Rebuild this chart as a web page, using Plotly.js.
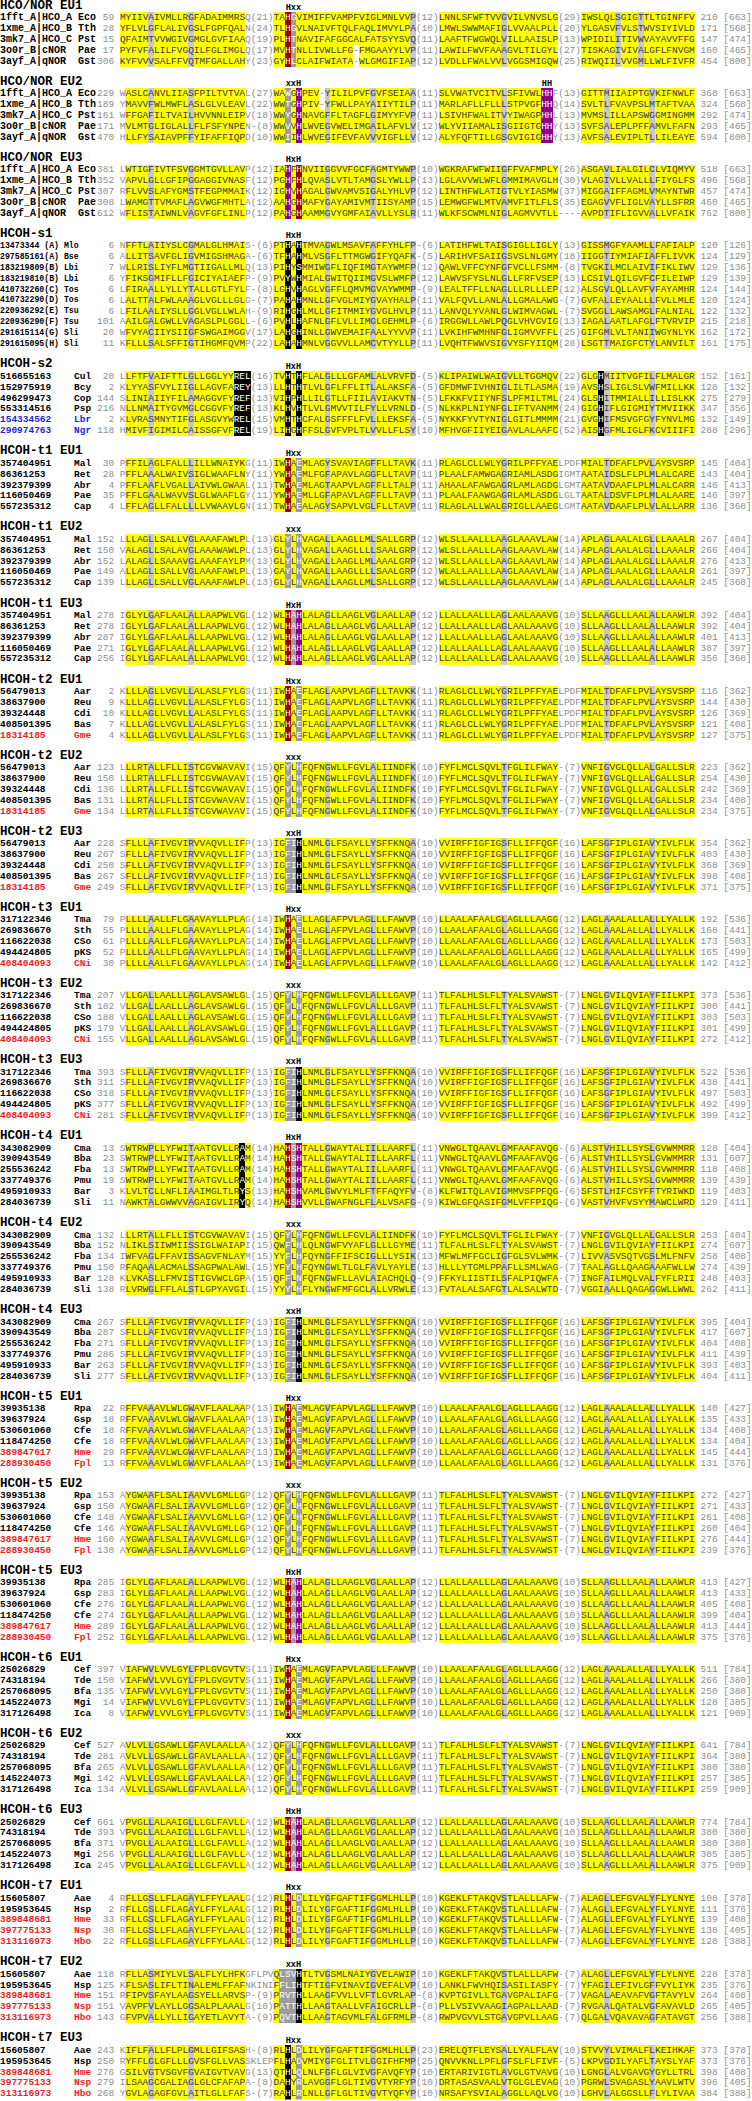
<!DOCTYPE html>
<html><head><meta charset="utf-8">
<script src="https://cdn.plot.ly/plotly-3.0.1.min.js"></script>
<style>html,body{margin:0;padding:0;background:#fff}#chart{width:752px;height:2101px}</style>
</head><body><div id="chart"></div>
<script>
// ---------------- DATA ----------------
// NOTE: residues were read from zoomed crops for blocks HCO/NOR EU1-EU3, HCOH-s1, HCOH-s2,
// HCOH-t1 EU1 (rows 1-2), HCOH-t4 EU1 (rows 4-6), HCOH-t4 EU2, HCOH-t4 EU3 (row 1), HCOH-t7 EU2 and EU3.
// All other sequence strings (and several start/end numbers) were NOT legible in the reference and are
// rough placeholders reused from similar blocks so that the layout/highlight pattern is approximated.
const blockTitles = ["HCO/NOR EU1","HCO/NOR EU2","HCO/NOR EU3","HCOH-s1","HCOH-s2",
 "HCOH-t1 EU1","HCOH-t1 EU2","HCOH-t1 EU3","HCOH-t2 EU1","HCOH-t2 EU2","HCOH-t2 EU3",
 "HCOH-t3 EU1","HCOH-t3 EU2","HCOH-t3 EU3","HCOH-t4 EU1","HCOH-t4 EU2","HCOH-t4 EU3",
 "HCOH-t5 EU1","HCOH-t5 EU2","HCOH-t5 EU3","HCOH-t6 EU1","HCOH-t6 EU2","HCOH-t6 EU3",
 "HCOH-t7 EU1","HCOH-t7 EU2","HCOH-t7 EU3"];

const motifTexts = [["Hxx"],["xxH","HH"],["HxH"],["HxH"],["HxH"],["Hxx"],["xxx"],["HxH"],["Hxx"],["xxx"],["xxH"],
 ["Hxx"],["xxx"],["xxH"],["HxH"],["xxx"],["xxH"],["Hxx"],["xxx"],["HxH"],["Hxx"],["xxx"],["HxH"],["Hxx"],["xxH"],["Hxx"]];
const motifCols = [[29],[29,74],[29],[29],[29],[29],[29],[29],[29],[29],[29],[29],[29],[29],[29],[29],[29],[29],[29],[29],[29],[29],[29],[29],[29],[29]];

const hcoLabels = ["1fft_A|HCO_A Eco","1xme_A|HCO_B Tth","3mk7_A|HCO_C Pst","3o0r_B|cNOR  Pae","3ayf_A|qNOR  Gst"];
const t1Labels = ["357404951    Mal","86361253     Ret","392379399    Abr","116050469    Pae","557235312    Cap"];
const t2Labels = ["56479013     Aar","38637900     Reu","39324448     Cdi","408501395    Bas","18314185     Gme"];
const t3Labels = ["317122346    Tma","269836670    Sth","116622038    CSo","494424805    pKS","408404093    CNi"];
const t4Labels = ["343082909    Cma","390943549    Bba","255536242    Fba","337749376    Pmu","495910933    Bar","284036739    Sli"];
const t5Labels = ["39935138     Rpa","39637924     Gsp","530601060    Cfe","118474250    Cfe","389847617    Hme","288930450    Fpl"];
const t6Labels = ["25026829     Cef","74318194     Tde","257068095    Bfa","145224073    Mgi","317126498    Ica"];
const t7Labels = ["15605807     Aae","195953645    Hsp","389848681    Hme","397775133    Nsp","313116973    Hbo"];

const rowLabels = [hcoLabels,hcoLabels,hcoLabels,
 ["13473344 (A) Mlo","297585161(A) Bse","183219809(B) Lbi","183219810(B) Lbi","410732260(C) Tos","410732290(D) Tos","220936292(E) Tsu","220936290(F) Tsu","291615114(G) Sli","291615095(H) Sli"],
 ["516655163    Cul","152975919    Bcy","496299473    Cop","553314516    Psp","154334562    Lbr","290974763    Ngr"],
 t1Labels,t1Labels,t1Labels,t2Labels,t2Labels,t2Labels,t3Labels,t3Labels,t3Labels,
 t4Labels,t4Labels,t4Labels,t5Labels,t5Labels,t5Labels,t6Labels,t6Labels,t6Labels,t7Labels,t7Labels,t7Labels];

const hcoColors = ["k","k","k","k","k"];
const labelColors = [hcoColors,hcoColors,hcoColors,
 ["k","k","k","k","k","k","k","k","k","k"],["k","k","k","k","b","b"],
 ["k","k","k","k","k"],["k","k","k","k","k"],["k","k","k","k","k"],
 ["k","k","k","k","r"],["k","k","k","k","r"],["k","k","k","k","r"],
 ["k","k","k","k","r"],["k","k","k","k","r"],["k","k","k","k","r"],
 ["k","k","k","k","k","k"],["k","k","k","k","k","k"],["k","k","k","k","k","k"],
 ["k","k","k","k","r","r"],["k","k","k","k","r","r"],["k","k","k","k","r","r"],
 ["k","k","k","k","k"],["k","k","k","k","k"],["k","k","k","k","k"],
 ["k","k","r","r","r"],["k","k","r","r","r"],["k","k","r","r","r"]];

const rowStarts = [
 [59,28,15,17,306],[229,189,161,171,470],[381,352,307,308,612],
 [6,6,7,6,6,6,6,101,20,11],[20,2,144,216,2,118],
 [30,28,4,35,4],[152,150,152,149,139],[278,278,287,271,256],
 [2,9,10,7,4],[123,150,136,131,134],[228,267,250,267,249],
 [79,55,61,52,30],[207,182,188,179,155],[393,311,318,377,281],
 [13,23,13,19,3,11],[132,152,134,150,128,138],[267,287,271,286,263,277],
 [22,18,18,18,29,13],[153,150,148,146,160,130],[285,283,276,274,289,252],
 [397,150,135,14,8],[527,281,265,142,134],[661,393,371,256,245],
 [4,2,33,30,22],[118,125,151,151,143],[243,250,276,279,268]];

const rowEnds = [
 [210,171,147,160,454],[368,324,292,293,594],[518,496,457,460,762],
 [120,124,129,129,124,120,122,215,162,161],[152,128,275,347,132,288],
 [145,143,146,146,136],[267,266,276,261,245],[392,392,401,387,356],
 [116,144,126,121,127],[223,254,242,234,234],[354,403,368,398,371],
 [192,168,173,165,142],[373,300,303,301,272],[522,438,497,492,399],
 [128,131,118,139,119,129],[253,274,258,274,248,262],[395,417,404,411,393,404],
 [140,135,134,134,145,131],[272,271,261,260,276,239],[413,413,405,399,413,375],
 [511,266,250,128,121],[641,364,380,257,259],[774,380,380,385,375],
 [108,111,139,138,128],[228,235,264,265,256],[373,373,398,396,384]];

const protLens = [
 [663,568,474,465,800],[663,568,474,465,800],[663,568,474,465,800],
 [126,129,136,139,144,124,132,218,172,175],[161,132,279,356,149,296],
 [404,404,413,397,368],[404,404,413,397,368],[404,404,413,397,368],
 [362,430,369,408,375],[362,430,369,408,375],[362,430,369,408,375],
 [536,441,503,499,412],[536,441,503,499,412],[536,441,503,499,412],
 [404,607,408,439,403,411],[404,607,408,439,403,411],[404,607,408,439,403,411],
 [427,433,408,404,444,376],[427,433,408,404,444,376],[427,433,408,404,444,376],
 [784,380,380,385,909],[784,380,380,385,909],[784,380,380,385,909],
 [378,376,408,405,388],[378,376,408,405,388],[378,376,408,405,388]];

const rowSeqs = [
 ["MYIIVAIVMLLRGFADAIMMRSQ(21)TAHGVIMIFFVAMPFVIGLMNLVVP(12)LNNLSFWFTVVGVILVNVSLG(29)IWSLQLSGIGTTLTGINFFV",
  "YFLVLGFLALIVGSLFGPFQALN(24)TLHGVLNAIVFTQLFAQLIMVYLPA(10)LMWLSWWMAFIGLVVAALPLL(20)YLGASVFVLSTWVSIYIVLD",
  "QFAIMTVVWGIVGMGLGVFIAAQ(19)PLHTNAVIFAFGGCALFATSYYSVQ(11)LAAFTFWGWQLVILLAAISLP(13)WPIDILITIVWVAYAVVFFG",
  "PYFVFALILFVGQILFGLIMGLQ(17)MVHTNLLIVWLLFG-FMGAAYYLVP(11)LAWILFWVFAAAGVLTILGYL(27)TISKAGIVIVALGFLFNVGM",
  "KYFVVVSALFFVQTMFGALLAHY(23)GYHLCLAIFWIATA-WLGMGIFIAP(12)LVDLLFWALVVLVGGSMIGQW(25)RIWQIILVVGMLLWLFIVFR"],
 ["WASLCANVLIIASFPILTVTVAL(27)WAWGHPEV-YILILPVFGVFSEIAA(11)SLVWATVCITVLSFIVWLHHF(13)GITTMIIAIPTGVKIFNWLF",
  "YMAVVFWLMWFLASLGLVLEAVL(22)WWTGHPIV-YFWLLPAYAIIYTILP(11)MARLAFLLFLLLSTPVGFHHQ(14)SVLTLFVAVPSLMTAFTVAA",
  "WFFGAFILTVAILHVVNNLEIPV(18)WWYGHNAVGFFLTAGFLGIMYYFVP(11)LSIVHFWALITVYIWAGPHHL(13)MVMSLILLAPSWGGMINGMM",
  "MVLMTGLIGLALLFLFSFYNPEN-(8)WWVVHLWVEGVWELIMGAILAFVLV(12)WLYVIIAMALISGIIGTGHHY(13)SVFSALEPLPFFAMVLFAFN",
  "HLLFYSAIAVPFFYIFAFFIQPD(10)WWIIHLWVEGIFEVFAVVVIGFLLV(12)ALYFQFTILLGSGVIGIGHHY(13)AVFSALEVIPLTLLILEAYE"],
 ["LWTIGFIVTFSVGGMTGVLLAVP(12)IAHFHNVIIGGVVFGCFAGMTYWWP(10)WGKRAFWFWIIGFFVAFMPLY(26)ASGAVLIALGILCLVIQMYV",
  "VAPVLGLLGFIPGGAGGIVNASF(12)PGHFHLQVASLVTLTAMGSLYWLLP(13)LGLAVVWLWFLGMMIMAVGLH(30)VLAGIVLLVALLLFIYGLFS",
  "RFLVVSLAFYGMSTFEGPMMAIK(12)IGHVHAGALGWVAMVSIGALYHLVP(12)LINTHFWLATIGTVLYIASMW(37)MIGGAIFFAGMLVMAYNTWR",
  "LWAMGTTVMAFLAGVWGFMHTLA(12)AAHGHMAFYGAYAMIVMTIISYAMP(15)LEMWGFWLMTVAMVFITLFLS(35)EGAGVVFLIGLVAYLLSFRR",
  "WFLISTAIWNLVAGVFGFLINLP(12)PAHGHAAMMGVYGMFAIAVLLYSLR(11)WLKFSCWMLNIGLAGMVVTLL----AVPDTIFLIGVVALLVFAIK"],
 ["NFFTLAIIYSLCGMALGLHMAIS-(6)PTHAHTMVAGWLMSAVFAFFYHLFP-(6)LATIHFWLTAISGIGLLIGLY(13)GISSMGFYAAMLLFAFIALP",
  "ALLITSAVFGLIGVMIGSHMAGA-(6)TFHAHMLVSGFLTTMGWGIFYQAFK-(5)LARIHVFSAIIGSVSLNLGMY(18)IIGGTIYMIAFIAFFLIVVK",
  "WLLRISLIYFLMGTIIGALLMLQ(13)PIHYSMMIWGFLIQFIMGTAYWMFP(12)QAWLVFFCYNFGFVCLLFSMM-(8)TVGKILMCLAIVIFIKLIWV",
  "YFIKSGMIFLLFGICIYAIAEFP-(9)PVYWHMIALGWITQIIMGVSLWMFP(12)LAWVSFYSLNLGLLFRFVSEP(13)LCSIVLQILGVFCFILEIWP",
  "LFIRAALLYLLYTALLGTLFYLF-(8)LGHVHAGLVGFFLQMVMGVAYWMMP-(9)LEALTFFLLNAGLLLRLLLEP(12)ALSGVLQLLAVFVFAYAMHR",
  "LALTTALFWLAAAGLVGLLLGLG-(7)PAHAHMNLLGFVGLMIYGVAYHALP(11)VALFQVLLANLALLGMALAWG-(7)GVFALLEYAALLLFVLLMLE",
  "LFILAALIYSLLGGLVGLLWLAH-(9)RIHGHLMLLGFITMMIYGVGLHVLP(11)LANVQLYVANLGLWIMVAGWL-(7)SVGGLLAWSAMGLFALNIAL",
  "AAILGALGWLLVAGASLPLGGLL-(6)PVHLHAFNLGFLVLLIMGLGEHMLP-(6)IRGGWLLAWLPQGLVHVGVIG(13)IAGALAATLAFGLFTVRVIP",
  "WFVYACIIYSIIGFSWGAIMGGV(17)LAHGHINLLGWVEMAIFAALYYVVP(11)LVKIHFWMHNFGLIGMVVFFL(25)GIFGMLVLTANIIWGYNLYK",
  "KFLLLSALSFFIGTIHGMFQVMP(22)LAHAHMNLVGGVVLLAMCVTYYLLP(11)LVQHTFWWVSIGVYSFYIIQM(28)LSGTTMAIGFCTYLANVILT"],
 ["LLFTFVAIFTTLGLLGGLYYREL(16)TVHTHFLALGLLLGFAMLALVRVFD-(5)KLIPAIWLWAIGVLLTGGMQV(22)GLGHMIITVGFILFLMALGR",
  "KLYYASFVYLIIGLLAGVFAREY(13)LLHTHTLVLGFLFFLITLALAKSFA-(5)GFDMWFIVHNIGLILTLASMA(19)AVSHSLIGLSLVWFMILLKK",
  "SLINIAIIYFILAMAGGVFYREF(13)VIHPHLLILGTLLFIILAVIAKVTN-(5)LFKKFVIIYNFSLPFMILTML(24)GLSHITMMIALLILLISLKK",
  "NLLNMAITYGVMGLCGGVFYREF(13)KLHVHTLVLGMVVTILFYLLVRNLD-(5)NLKKPLNIYNFGLIFTVANMM(24)GIGHIFLGIGMIYTMVIIKK",
  "KLVRASMNYTIFGLASGVYWREL(15)VMHTHCFALGSFFFLFVLLLEKSFA-(5)NYKKFYVTYNIGLGITLMMMM(21)GVGHIFMSVGFGYFYNVLMG",
  "HMIVFIGIMILCAISSGFVFREL(19)LIHGHFFSLGVFVPLTLVVLLFLSY(10)MFHVGFIIYEIGAVLALAAFC(52)AISHGFMLIGLFKCVIIIFI"],
 ["PFFILAGLFALLLILLWNAIYKG(11)IWHAEMLAGYSVAVIAGFFLLTAVK(11)RLAGLCLLWLYGRILPFFYAELPDFMIALTDFAFLPVLAYSVSRP",
  "PFFLAAALWAIVSIGLWAAFLNY(11)YWHAEMLFGFAPAVLAGGFLLTAVP(11)PLAALFAMWGAGRIAMLASDGIGMTAATAIDSLFLPLMLALCARE",
  "PFFLAAFLVGALLAIVWLGWAAL(11)TWHAEMLAGTAAPVLAGFFLLTALP(11)AHAALAFAWGAGRLAMLAGDGLGMTAATAVDAAFLPLMLALCARR",
  "PFFLGAALWAVVSLGLWAAFLGY(11)YWHAEMLLGFAPAVLAGFFLLTAVP(11)PLAALFAAWGAGRLAMLASDGLGLTAATALDSVFLPLMLALAARE",
  "LFFLAGLLFALLLLLVWAAVLGN(11)TWHAEALAGYSAPVLVGLFLLTAVP(11)RLAGLALLWALGRIGLLAAEGLGMTAATAVDAAFLPLVLALLARR"],
 ["LLLAGLLSALLVGLAAAFAWLPL(13)GLYLHVAGALLAAGLLMLSALLGRP(12)WLSLLAALLLAAGLAAAVLAW(14)APLAGLAALALGLLLAAALR",
  "VALAGLLSALAVGLAAAWAWLPL(13)GLYLHVAGALLAAGLLLLSAALGRP(12)WLSLLAALLLAAGLAAAVLAW(14)APLAGLAALALGLLLAAALR",
  "LALAGLLSAAAVGLAAAFAYLPM(13)GLYLHVAGALLAAGLLMLAAALGRP(12)WLSLLAALLLAAGLAAAVLAW(14)APLAGLAALALGLLLAAALR",
  "ALLAGLLSALLVGLAAAFAWLPL(13)GAYLHVAGALLAAGLLLLSAALGRP(12)WLALLAALLLAAGLAAAVLAW(14)APLAGLAALALGLLLAAALR",
  "LLLAGLLSALLVGLAAAFAWLPL(13)GLYLHVAGALLAAGLLMLSALLGRP(12)WLSLLAALLLAAGLAAAVLAW(14)APLAGLAALALGLLLAAALR"],
 ["IGLYLGAFLAALALLAAPWLVGL(12)WLHAHLALAGLLAAGLVGLAALLAP(12)LLALLAALLLAGLAALAAAVG(10)SLLAAGLLLAALALLAAWLR",
  "IGLYLGAFLAALALLAAPWLVGL(12)WLHAHLALAGLLAAGLVGLAALLAP(12)LLALLAALLLAGLAALAAAVG(10)SLLAAGLLLAALALLAAWLR",
  "IGLYLGAFLAALALLAAPWLVGL(12)WLHAHLALAGLLAAGLVGLAALLAP(12)LLALLAALLLAGLAALAAAVG(10)SLLAAGLLLAALALLAAWLR",
  "IGLYLGAFLAALALLAAPWLVGL(12)WLHAHLALAGLLAAGLVGLAALLAP(12)LLALLAALLLAGLAALAAAVG(10)SLLAAGLLLAALALLAAWLR",
  "IGLYLGAFLAALALLAAPWLVGL(12)WLHAHLALAGLLAAGLVGLAALLAP(12)LLALLAALLLAGLAALAAAVG(10)SLLAAGLLLAALALLAAWLR"],
 ["KLLLAGLLVGVLLALASLFYLGS(11)IWHAEFLAGLAAPVLAGFLLTAVKK(11)RLAGLCLLWLYGRILPFFYAELPDFMIALTDFAFLPVLAYSVSRP",
  "KLLLAGLLVGVLLALASLFYLGS(11)IWHAEFLAGLAAPVLAGFLLTAVKK(11)RLAGLCLLWLYGRILPFFYAELPDFMIALTDFAFLPVLAYSVSRP",
  "KLLLAGLLVGVLLALASLFYLGS(11)IWHAEFLAGLAAPVLAGFLLTAVKK(11)RLAGLCLLWLYGRILPFFYAELPDFMIALTDFAFLPVLAYSVSRP",
  "KLLLAGLLVGVLLALASLFYLGS(11)IWHAEFLAGLAAPVLAGFLLTAVKK(11)RLAGLCLLWLYGRILPFFYAELPDFMIALTDFAFLPVLAYSVSRP",
  "KLLLAGLLVGVLLALASLFYLGS(11)IWHAEFLAGLAAPVLAGFLLTAVKK(11)RLAGLCLLWLYGRILPFFYAELPDFMIALTDFAFLPVLAYSVSRP"],
 ["LLLRTALLFLLISTCGVWAVAVI(15)QFYLHFQFNGWLLFGVLALIINDFK(10)FYFLMCLSQVLTFGLILFWAY-(7)VNFIGVGLQLLALGALLSLR",
  "LLLRTALLFLLISTCGVWAVAVI(15)QFYLHFQFNGWLLFGVLALIINDFK(10)FYFLMCLSQVLTFGLILFWAY-(7)VNFIGVGLQLLALGALLSLR",
  "LLLRTALLFLLISTCGVWAVAVI(15)QFYLHFQFNGWLLFGVLALIINDFK(10)FYFLMCLSQVLTFGLILFWAY-(7)VNFIGVGLQLLALGALLSLR",
  "LLLRTALLFLLISTCGVWAVAVI(15)QFYLHFQFNGWLLFGVLALIINDFK(10)FYFLMCLSQVLTFGLILFWAY-(7)VNFIGVGLQLLALGALLSLR",
  "LLLRTALLFLLISTCGVWAVAVI(15)QFYLHFQFNGWLLFGVLALIINDFK(10)FYFLMCLSQVLTFGLILFWAY-(7)VNFIGVGLQLLALGALLSLR"],
 ["SFLLLAFIVGVIRVVAQVLLIFP(13)IGFIHLNMLGLFSAYLLYSFFKNQA(10)VVIRFFIGFIGSFLLIFFQGF(16)LAFSGFIPLGIAVYIVLFLK",
  "SFLLLAFIVGVIRVVAQVLLIFP(13)IGFIHLNMLGLFSAYLLYSFFKNQA(10)VVIRFFIGFIGSFLLIFFQGF(16)LAFSGFIPLGIAVYIVLFLK",
  "SFLLLAFIVGVIRVVAQVLLIFP(13)IGFIHLNMLGLFSAYLLYSFFKNQA(10)VVIRFFIGFIGSFLLIFFQGF(16)LAFSGFIPLGIAVYIVLFLK",
  "SFLLLAFIVGVIRVVAQVLLIFP(13)IGFIHLNMLGLFSAYLLYSFFKNQA(10)VVIRFFIGFIGSFLLIFFQGF(16)LAFSGFIPLGIAVYIVLFLK",
  "SFLLLAFIVGVIRVVAQVLLIFP(13)IGFIHLNMLGLFSAYLLYSFFKNQA(10)VVIRFFIGFIGSFLLIFFQGF(16)LAFSGFIPLGIAVYIVLFLK"],
 ["PLLLLAALLFLGAAVAYLLPLAG(14)IWHAELLAGLAFPVLAGLLLFAWVP(10)LLAALAFAALGLAGLLLAAGG(12)LAGLAAALALLALLLYALLK",
  "PLLLLAALLFLGAAVAYLLPLAG(14)IWHAELLAGLAFPVLAGLLLFAWVP(10)LLAALAFAALGLAGLLLAAGG(12)LAGLAAALALLALLLYALLK",
  "PLLLLAALLFLGAAVAYLLPLAG(14)IWHAELLAGLAFPVLAGLLLFAWVP(10)LLAALAFAALGLAGLLLAAGG(12)LAGLAAALALLALLLYALLK",
  "PLLLLAALLFLGAAVAYLLPLAG(14)IWHAELLAGLAFPVLAGLLLFAWVP(10)LLAALAFAALGLAGLLLAAGG(12)LAGLAAALALLALLLYALLK",
  "PLLLLAALLFLGAAVAYLLPLAG(14)IWHAELLAGLAFPVLAGLLLFAWVP(10)LLAALAFAALGLAGLLLAAGG(12)LAGLAAALALLALLLYALLK"],
 ["VLLGALLAALLLAGLAVSAWLGL(15)QFYLHFQFNGWLLFGVLALLLGAVP(11)TLFALHLSLFLTYALSVAWST-(7)LNGLGVILQVIAYFIILKPI",
  "VLLGALLAALLLAGLAVSAWLGL(15)QFYLHFQFNGWLLFGVLALLLGAVP(11)TLFALHLSLFLTYALSVAWST-(7)LNGLGVILQVIAYFIILKPI",
  "VLLGALLAALLLAGLAVSAWLGL(15)QFYLHFQFNGWLLFGVLALLLGAVP(11)TLFALHLSLFLTYALSVAWST-(7)LNGLGVILQVIAYFIILKPI",
  "VLLGALLAALLLAGLAVSAWLGL(15)QFYLHFQFNGWLLFGVLALLLGAVP(11)TLFALHLSLFLTYALSVAWST-(7)LNGLGVILQVIAYFIILKPI",
  "VLLGALLAALLLAGLAVSAWLGL(15)QFYLHFQFNGWLLFGVLALLLGAVP(11)TLFALHLSLFLTYALSVAWST-(7)LNGLGVILQVIAYFIILKPI"],
 ["SFLLLAFIVGVIRVVAQVLLIFP(13)IGFIHLNMLGLFSAYLLYSFFKNQA(10)VVIRFFIGFIGSFLLIFFQGF(16)LAFSGFIPLGIAVYIVLFLK",
  "SFLLLAFIVGVIRVVAQVLLIFP(13)IGFIHLNMLGLFSAYLLYSFFKNQA(10)VVIRFFIGFIGSFLLIFFQGF(16)LAFSGFIPLGIAVYIVLFLK",
  "SFLLLAFIVGVIRVVAQVLLIFP(13)IGFIHLNMLGLFSAYLLYSFFKNQA(10)VVIRFFIGFIGSFLLIFFQGF(16)LAFSGFIPLGIAVYIVLFLK",
  "SFLLLAFIVGVIRVVAQVLLIFP(13)IGFIHLNMLGLFSAYLLYSFFKNQA(10)VVIRFFIGFIGSFLLIFFQGF(16)LAFSGFIPLGIAVYIVLFLK",
  "SFLLLAFIVGVIRVVAQVLLIFP(13)IGFIHLNMLGLFSAYLLYSFFKNQA(10)VVIRFFIGFIGSFLLIFFQGF(16)LAFSGFIPLGIAVYIVLFLK"],
 ["SWTRWPLLYFWITAATGVLLRAM(14)HAHSHTALLGWAYTALIILLAARFL(11)VNWGLTQAAVLGMFAAFAVQG-(6)ALSTVHILLSYSLGVWMMRR",
  "SWTRWPLLYFWITAATGVLLRAM(14)HAHSHTALLGWAYTALIILLAARFL(11)VNWGLTQAAVLGMFAAFAVQG-(6)ALSTVHILLSYSLGVWMMRR",
  "SWTRWPLLYFWITAATGVLLRAM(14)HAHSHTALLGWAYTALIILLAARFL(11)VNWGLTQAAVLGMFAAFAVQG-(6)ALSTVHILLSYSLGVWMMRR",
  "SWTRWPLLYFWITAATGVLLRAM(14)HAHSHTALLGWAYTALIILLAARFL(11)VNWGLTQAAVLGMFAAFAVQG-(6)ALSTVHILLSYSLGVWMMRR",
  "KLVLTCLLNFLIAAIMGLTLRYS(13)HAHSHVAMLGWVYLMLFTFFAQYFV-(8)KLFWITQLAVIGMMVSFPFQG-(6)SFSTLHIFCSYFFTYRIWKD",
  "NAWKTALGWWVVAGAIGVLIRYQ(14)HAHSHVVLLGWAFNGLFLALVSAFG-(9)KIWLGFQASIFGMLVFFPIQG-(6)VASTVHVFVSYYMAWCLWRD"],
 ["LLLRTALLFLLISTCGVWAVAVI(15)QFYLHFQFNGWLLFGVLALIINDFK(10)FYFLMCLSQVLTFGLILFWAY-(7)VNFIGVGLQLLALGALLSLR",
  "NLIKLSIIWMIISSIGLWAIAPI(15)QWFLHLQLNGWFVYAFLGLLLGYME(11)TLFALHLSLFLTYALSVAWST-(7)LNGLGVILQVIAYFIILKPI",
  "IWFVAGLFFAVISSAGVFNLAYM(15)YYFLHFQYNGFFIFSCIGLLLYSIK(13)MFWLMFFGCLIGFGLSVLWMK-(7)LIVVASVSQTVGSLMLFNFV",
  "RFAQAALACMALSSAGPWALAWL(15)YFYLHFQYNGWLTLGLFAVLYAYLE(13)HLLLYTGMLPPAFLLSMLWAG-(7)TAALAGLLQAAGAAAFWLLW",
  "KLVKASLLFMVISTIGVWCLGPA(15)QFFLNFQFNGWFLLAVLAIACHQLQ-(9)FFKYLIISTILSFALPIQWFA-(7)INGFAILMQLVALFYFLRII",
  "RLVRWGLFFLALSTLGPYAVGIL(15)YYYLHFLYNGWFMFGCLALLVRWLE(13)FVTALALSAFGTLALSALWTD-(7)VGGIAALLQAGAGGWLLWWL"],
 ["SFLLLAFIVGVIRVVAQVLLIFP(13)IGFIHLNMLGLFSAYLLYSFFKNQA(10)VVIRFFIGFIGSFLLIFFQGF(16)LAFSGFIPLGIAVYIVLFLK",
  "SFLLLAFIVGVIRVVAQVLLIFP(13)IGFIHLNMLGLFSAYLLYSFFKNQA(10)VVIRFFIGFIGSFLLIFFQGF(16)LAFSGFIPLGIAVYIVLFLK",
  "SFLLLAFIVGVIRVVAQVLLIFP(13)IGFIHLNMLGLFSAYLLYSFFKNQA(10)VVIRFFIGFIGSFLLIFFQGF(16)LAFSGFIPLGIAVYIVLFLK",
  "SFLLLAFIVGVIRVVAQVLLIFP(13)IGFIHLNMLGLFSAYLLYSFFKNQA(10)VVIRFFIGFIGSFLLIFFQGF(16)LAFSGFIPLGIAVYIVLFLK",
  "SFLLLAFIVGVIRVVAQVLLIFP(13)IGFIHLNMLGLFSAYLLYSFFKNQA(10)VVIRFFIGFIGSFLLIFFQGF(16)LAFSGFIPLGIAVYIVLFLK",
  "SFLLLAFIVGVIRVVAQVLLIFP(13)IGFIHLNMLGLFSAYLLYSFFKNQA(10)VVIRFFIGFIGSFLLIFFQGF(16)LAFSGFIPLGIAVYIVLFLK"],
 ["RFFVAAAVLWLGWAVFLAALAAP(13)IWHAEMLAGVFAPVLAGLLLFAWVP(10)LLAALAFAALGLAGLLLAAGG(12)LAGLAAALALLALLLYALLK",
  "RFFVAAAVLWLGWAVFLAALAAP(13)IWHAEMLAGVFAPVLAGLLLFAWVP(10)LLAALAFAALGLAGLLLAAGG(12)LAGLAAALALLALLLYALLK",
  "RFFVAAAVLWLGWAVFLAALAAP(13)IWHAEMLAGVFAPVLAGLLLFAWVP(10)LLAALAFAALGLAGLLLAAGG(12)LAGLAAALALLALLLYALLK",
  "RFFVAAAVLWLGWAVFLAALAAP(13)IWHAEMLAGVFAPVLAGLLLFAWVP(10)LLAALAFAALGLAGLLLAAGG(12)LAGLAAALALLALLLYALLK",
  "RFFVAAAVLWLGWAVFLAALAAP(13)IWHAEMLAGVFAPVLAGLLLFAWVP(10)LLAALAFAALGLAGLLLAAGG(12)LAGLAAALALLALLLYALLK",
  "RFFVAAAVLWLGWAVFLAALAAP(13)IWHAEMLAGVFAPVLAGLLLFAWVP(10)LLAALAFAALGLAGLLLAAGG(12)LAGLAAALALLALLLYALLK"],
 ["AYGWAAFLSALIAAVVLGMLLGP(12)QFYLHFQFNGWLLFGVLALLLGAVP(11)TLFALHLSLFLTYALSVAWST-(7)LNGLGVILQVIAYFIILKPI",
  "AYGWAAFLSALIAAVVLGMLLGP(12)QFYLHFQFNGWLLFGVLALLLGAVP(11)TLFALHLSLFLTYALSVAWST-(7)LNGLGVILQVIAYFIILKPI",
  "AYGWAAFLSALIAAVVLGMLLGP(12)QFYLHFQFNGWLLFGVLALLLGAVP(11)TLFALHLSLFLTYALSVAWST-(7)LNGLGVILQVIAYFIILKPI",
  "AYGWAAFLSALIAAVVLGMLLGP(12)QFYLHFQFNGWLLFGVLALLLGAVP(11)TLFALHLSLFLTYALSVAWST-(7)LNGLGVILQVIAYFIILKPI",
  "AYGWAAFLSALIAAVVLGMLLGP(12)QFYLHFQFNGWLLFGVLALLLGAVP(11)TLFALHLSLFLTYALSVAWST-(7)LNGLGVILQVIAYFIILKPI",
  "AYGWAAFLSALIAAVVLGMLLGP(12)QFYLHFQFNGWLLFGVLALLLGAVP(11)TLFALHLSLFLTYALSVAWST-(7)LNGLGVILQVIAYFIILKPI"],
 ["IGLYLGAFLAALALLAAPWLVGL(12)WLHAHLALAGLLAAGLVGLAALLAP(12)LLALLAALLLAGLAALAAAVG(10)SLLAAGLLLAALALLAAWLR",
  "IGLYLGAFLAALALLAAPWLVGL(12)WLHAHLALAGLLAAGLVGLAALLAP(12)LLALLAALLLAGLAALAAAVG(10)SLLAAGLLLAALALLAAWLR",
  "IGLYLGAFLAALALLAAPWLVGL(12)WLHAHLALAGLLAAGLVGLAALLAP(12)LLALLAALLLAGLAALAAAVG(10)SLLAAGLLLAALALLAAWLR",
  "IGLYLGAFLAALALLAAPWLVGL(12)WLHAHLALAGLLAAGLVGLAALLAP(12)LLALLAALLLAGLAALAAAVG(10)SLLAAGLLLAALALLAAWLR",
  "IGLYLGAFLAALALLAAPWLVGL(12)WLHAHLALAGLLAAGLVGLAALLAP(12)LLALLAALLLAGLAALAAAVG(10)SLLAAGLLLAALALLAAWLR",
  "IGLYLGAFLAALALLAAPWLVGL(12)WLHAHLALAGLLAAGLVGLAALLAP(12)LLALLAALLLAGLAALAAAVG(10)SLLAAGLLLAALALLAAWLR"],
 ["VIAFWVLVVLGYLFPLGVGVTVS(11)IWHAEMLAGVFAPVLAGLLLFAWVP(10)LLAALAFAALGLAGLLLAAGG(12)LAGLAAALALLALLLYALLK",
  "VIAFWVLVVLGYLFPLGVGVTVS(11)IWHAEMLAGVFAPVLAGLLLFAWVP(10)LLAALAFAALGLAGLLLAAGG(12)LAGLAAALALLALLLYALLK",
  "VIAFWVLVVLGYLFPLGVGVTVS(11)IWHAEMLAGVFAPVLAGLLLFAWVP(10)LLAALAFAALGLAGLLLAAGG(12)LAGLAAALALLALLLYALLK",
  "VIAFWVLVVLGYLFPLGVGVTVS(11)IWHAEMLAGVFAPVLAGLLLFAWVP(10)LLAALAFAALGLAGLLLAAGG(12)LAGLAAALALLALLLYALLK",
  "VIAFWVLVVLGYLFPLGVGVTVS(11)IWHAEMLAGVFAPVLAGLLLFAWVP(10)LLAALAFAALGLAGLLLAAGG(12)LAGLAAALALLALLLYALLK"],
 ["AVLVLLGSAWLLGFAVLAALLAA(12)QFYLHFQFNGWLLFGVLALLLGAVP(11)TLFALHLSLFLTYALSVAWST-(7)LNGLGVILQVIAYFIILKPI",
  "AVLVLLGSAWLLGFAVLAALLAA(12)QFYLHFQFNGWLLFGVLALLLGAVP(11)TLFALHLSLFLTYALSVAWST-(7)LNGLGVILQVIAYFIILKPI",
  "AVLVLLGSAWLLGFAVLAALLAA(12)QFYLHFQFNGWLLFGVLALLLGAVP(11)TLFALHLSLFLTYALSVAWST-(7)LNGLGVILQVIAYFIILKPI",
  "AVLVLLGSAWLLGFAVLAALLAA(12)QFYLHFQFNGWLLFGVLALLLGAVP(11)TLFALHLSLFLTYALSVAWST-(7)LNGLGVILQVIAYFIILKPI",
  "AVLVLLGSAWLLGFAVLAALLAA(12)QFYLHFQFNGWLLFGVLALLLGAVP(11)TLFALHLSLFLTYALSVAWST-(7)LNGLGVILQVIAYFIILKPI"],
 ["VPVGLLALAAIGLLLGLFAVLLA(12)WLHAHLALAGLLAAGLVGLAALLAP(12)LLALLAALLLAGLAALAAAVG(10)SLLAAGLLLAALALLAAWLR",
  "VPVGLLALAAIGLLLGLFAVLLA(12)WLHAHLALAGLLAAGLVGLAALLAP(12)LLALLAALLLAGLAALAAAVG(10)SLLAAGLLLAALALLAAWLR",
  "VPVGLLALAAIGLLLGLFAVLLA(12)WLHAHLALAGLLAAGLVGLAALLAP(12)LLALLAALLLAGLAALAAAVG(10)SLLAAGLLLAALALLAAWLR",
  "VPVGLLALAAIGLLLGLFAVLLA(12)WLHAHLALAGLLAAGLVGLAALLAP(12)LLALLAALLLAGLAALAAAVG(10)SLLAAGLLLAALALLAAWLR",
  "VPVGLLALAAIGLLLGLFAVLLA(12)WLHAHLALAGLLAAGLVGLAALLAP(12)LLALLAALLLAGLAALAAAVG(10)SLLAAGLLLAALALLAAWLR"],
 ["RFLLGSLLFLAGAYLFFYLAALG(12)RLHLDLILYGFGAFTIFGGMLHLLP(10)KGEKLFTAKQVSTLALLLAFW-(7)ALAGLLEFGVALYFLYLNYE",
  "RFLLGSLLFLAGAYLFFYLAALG(12)RLHLDLILYGFGAFTIFGGMLHLLP(10)KGEKLFTAKQVSTLALLLAFW-(7)ALAGLLEFGVALYFLYLNYE",
  "RFLLGSLLFLAGAYLFFYLAALG(12)RLHLDLILYGFGAFTIFGGMLHLLP(10)KGEKLFTAKQVSTLALLLAFW-(7)ALAGLLEFGVALYFLYLNYE",
  "RFLLGSLLFLAGAYLFFYLAALG(12)RLHLDLILYGFGAFTIFGGMLHLLP(10)KGEKLFTAKQVSTLALLLAFW-(7)ALAGLLEFGVALYFLYLNYE",
  "RFLLGSLLFLAGAYLFFYLAALG(12)RLHLDLILYGFGAFTIFGGMLHLLP(10)KGEKLFTAKQVSTLALLLAFW-(7)ALAGLLEFGVALYFLYLNYE"],
 ["RFLLASMIYLVLSALFLYLHFKGFLPVQLSVHTLTVGSMLNAIYGVELAWIP(10)KGEKLFTAKQVSTLALLLAFW-(7)ALAGLLEFGVALYFLYLNYE",
  "KFLSASLIFLTINALEMLFFAFNKINIFFLIHTFTIGFVINAVIGVEFALVP(10)LANKLFWVHQISASILIASFY-(7)YFAGILEFIVLGFFVYLIYK",
  "RFIPVSFAYLAAGSYELLARVSP-(9)PRVTHLLAAGFVVLLVFTLGVRLAP-(8)KVPTGIVLLTGAVGPALIAFG-(7)VAGALAEAVAFVGFTAVYLV",
  "VAVPFVLAYLLGGSALPLAAALG(10)PATTHLLAAGTAALLVFAIGCRLLP-(8)PLLVSIVVAAGIAGPALLAAD-(7)RVGAALQATALVGFAVAVLD",
  "GFVPVALLYLLIGAYETLAVYTA-(9)PQVTHLLAAGTAGVMLFALGFRMLP-(8)RWPVGVVLSTGAVGPVLLAAG-(7)QLGALVQAVAVAGFATAVGT"],
 ["KIFLFALLFLPLGMLLGIFSASH-(8)RLHLDLILYGFGAFTIFGGMLHLLP(23)ERELQTFLEYSALLYALFLAV(10)STVVYLVIMALFLKEIHKAF",
  "RYFFLGLGFLLLGVSFGLLVASSKLEPFLHADVMIYGFGLITVLGGIFHFMP(25)QNVVKNLLPFLGFSLFLFIVF-(5)LKPVGDILYAFLTAYSLYAF",
  "GSILVGTVSGVFGVAIGVTVAVG(13)QTHLQLNLFGFLGLVIVGFAVQFYP(10)ERTARIVIGTLAVGLGTVAVG(10)LGNGLALVGAVGYGYLLTRL",
  "ILSAAGCGALIAGLGLCFAFAPA-(8)DAHYRLAVGGFLGLTIVGVTYRFYP(10)DRTASASVAALVTGLGLEVAG(10)PGRWLSVAGASLYAAVLWTV",
  "YGVLAGAGFGVLAITLGLLFAFS-(7)RAHLRLNLLGFLGLTIVGVTYQFYP(10)NRSAFYSVIALAGGLLAQLVG(10)LGHVLALGGSLLFLYLIVAA"]
];

// column highlight masks (one char per alignment column): y=yellow g=grey x=motif grey k=black r=black/red-H p=black/purple-H
const SEG1 = ".yyyygyyyyyygyyyyyyyyy.";
const GAP = "....";
const SEG2T = "yyyygyyyyyyygyyyyyyg";
const SEG3 = "yyyyyyyyyyygyyyyyyyyy";
const SEG4 = "yyyygyyyyyyygyyyyyyy";
const highlightMasks = [
 "yyyyygyyyyyygyyyyyyyyy." + GAP + "yyrxyyyyyyyyyyyyyyyyyyyyg" + GAP + SEG3 + GAP + "yyyyyygyyygyyyyyyyyy",
 SEG1 + GAP + "yyxyp" + SEG2T + GAP + "yyyyyyyyyyygyyyyyypp." + GAP + SEG4,
 SEG1 + GAP + "yypyr" + SEG2T + GAP + SEG3 + GAP + SEG4,
 SEG1 + GAP + "yykyk" + SEG2T + GAP + SEG3 + GAP + SEG4,
 ".yyyygyyyyyygyyyyyyykkk" + GAP + "yykyk" + SEG2T + GAP + SEG3 + GAP + "yyyk" + "gyyyyyyygyyyyyyy",
 SEG1 + GAP + "yyryx" + SEG2T + GAP + SEG3 + GAP + SEG4,
 SEG1 + GAP + "yyxyx" + SEG2T + GAP + SEG3 + GAP + SEG4,
 SEG1 + GAP + "yyrxp" + SEG2T + GAP + SEG3 + GAP + SEG4,
 SEG1 + GAP + "yyryx" + SEG2T + GAP + SEG3 + GAP + SEG4,
 SEG1 + GAP + "yyxyx" + SEG2T + GAP + SEG3 + GAP + SEG4,
 SEG1 + GAP + "yyxxk" + SEG2T + GAP + SEG3 + GAP + SEG4,
 SEG1 + GAP + "yyryx" + SEG2T + GAP + SEG3 + GAP + SEG4,
 SEG1 + GAP + "yyxyx" + SEG2T + GAP + SEG3 + GAP + SEG4,
 SEG1 + GAP + "yyxxk" + SEG2T + GAP + SEG3 + GAP + SEG4,
 ".yyyygyyyyyygyyyyyyyyky" + GAP + "yyrxp" + SEG2T + GAP + SEG3 + GAP + SEG4,
 SEG1 + GAP + "yyxyx" + SEG2T + GAP + SEG3 + GAP + SEG4,
 SEG1 + GAP + "yyxxk" + SEG2T + GAP + SEG3 + GAP + SEG4,
 SEG1 + GAP + "yyryx" + SEG2T + GAP + SEG3 + GAP + SEG4,
 SEG1 + GAP + "yyxyx" + SEG2T + GAP + SEG3 + GAP + SEG4,
 SEG1 + GAP + "yyrxp" + SEG2T + GAP + SEG3 + GAP + SEG4,
 SEG1 + GAP + "yyryx" + SEG2T + GAP + SEG3 + GAP + SEG4,
 SEG1 + GAP + "yyxyx" + SEG2T + GAP + SEG3 + GAP + SEG4,
 SEG1 + GAP + "yyrxp" + SEG2T + GAP + SEG3 + GAP + SEG4,
 SEG1 + GAP + "yyryx" + SEG2T + GAP + SEG3 + GAP + SEG4,
 SEG1 + GAP + "yxxxk" + SEG2T + GAP + SEG3 + GAP + SEG4,
 SEG1 + GAP + "yykyx" + SEG2T + GAP + SEG3 + GAP + SEG4
];

// ---------------- RENDER ----------------
const N_COLS = 132, SEQ0 = 21, SEQ_LEN = 101, ROW_TXT0 = 17;
const COL_PX = 752 / N_COLS;
const FS = COL_PX / 0.6;
const MONO = "Liberation Mono, Courier New, monospace";
const NB = "\u00a0";
const LINE_PX = 10.87, LINE0_PX = 6.9;
const labelColorMap = {k: "#000000", r: "#ee1c1c", b: "#2323d6"};
const spanColor = {d: "#3a3a3a", w: "#ffffff"};

const zRows = [];
const rowTxt = [], rowY = [];
const labT = [], labX = [], labY = [], labC = [], labS = [];
const titT = [], titX = [], titY = [];
const motT = [], motX = [], motY = [];

function ensure(line) { while (zRows.length <= line) zRows.push(new Array(N_COLS).fill(null)); }

let line = 0;
blockTitles.forEach((title, b) => {
  ensure(line);
  const tfs = 12.5;
  titT.push(title); titY.push(line - 0.12);
  titX.push(title.length * 0.6 * tfs / COL_PX / 2);
  motifTexts[b].forEach((m, i) => {
    motT.push(m); motY.push(line + 0.08);
    motX.push(SEQ0 + motifCols[b][i] + m.length / 2);
  });
  const mask = highlightMasks[b];
  const lfs = b < 3 ? 10 : (b === 3 ? 8.2 : FS);
  rowLabels[b].forEach((lab, r) => {
    line++;
    ensure(line);
    const ch = new Array(N_COLS).fill(NB), cls = new Array(N_COLS).fill("g");
    const st = String(rowStarts[b][r]);
    for (let i = 0; i < st.length; i++) ch[20 - st.length + i] = st[i];
    const seq = rowSeqs[b][r].slice(0, SEQ_LEN);
    for (let i = 0; i < seq.length; i++) {
      const c = seq[i], col = SEQ0 + i;
      if (c === " ") continue;
      ch[col] = c;
      const m = mask[i] || ".";
      if (/[A-Z]/.test(c) && m !== ".") {
        let z = 1, k = "d";
        if (m === "g") z = 2;
        else if (m === "x") { z = 6; k = "w"; }
        else if (m === "k") { z = 3; k = "w"; }
        else if (m === "r") { z = c === "H" ? 4 : 3; k = "w"; }
        else if (m === "p") { z = c === "H" ? 5 : 3; k = "w"; }
        zRows[line][col] = z; cls[col] = k;
      }
    }
    const en = String(rowEnds[b][r]);
    for (let i = 0; i < en.length; i++) ch[126 - en.length + i] = en[i];
    const ln = "[" + protLens[b][r] + "]";
    for (let i = 0; i < ln.length && 127 + i < N_COLS; i++) ch[127 + i] = ln[i];
    let s = "", cur = "g";
    for (let col = ROW_TXT0; col < N_COLS; col++) {
      const k = cls[col];
      if (k !== cur) {
        if (cur !== "g") s += "</span>";
        if (k !== "g") s += '<span style="color:' + spanColor[k] + '">';
        cur = k;
      }
      s += ch[col];
    }
    if (cur !== "g") s += "</span>";
    rowTxt.push(s); rowY.push(line);
    labT.push(lab); labY.push(line); labS.push(lfs);
    labX.push(lab.length * 0.6 * lfs / COL_PX / 2);
    labC.push(labelColorMap[labelColors[b][r]]);
  });
  line += 2;
});

const traces = [
  {type: "heatmap", z: zRows, x0: 0.5, dx: 1, y0: 0, dy: 1, zmin: 0.5, zmax: 6.5, showscale: false, hoverinfo: "skip",
   colorscale: [[0, "#ffff00"], [1/6, "#ffff00"], [1/6, "#c8c8c8"], [2/6, "#c8c8c8"], [2/6, "#000000"], [3/6, "#000000"],
                [3/6, "#9a0000"], [4/6, "#9a0000"], [4/6, "#8a008a"], [5/6, "#8a008a"], [5/6, "#9c9c9c"], [1, "#9c9c9c"]]},
  {type: "scatter", mode: "text", x: rowY.map(() => (ROW_TXT0 + N_COLS) / 2), y: rowY, text: rowTxt,
   textposition: "middle center", cliponaxis: false, hoverinfo: "skip",
   textfont: {family: MONO, size: FS, color: "#8e8e8e"}},
  {type: "scatter", mode: "text", x: labX, y: labY, text: labT, textposition: "middle center", cliponaxis: false, hoverinfo: "skip",
   textfont: {family: MONO, size: labS, color: labC, weight: "bold"}},
  {type: "scatter", mode: "text", x: titX, y: titY, text: titT, textposition: "middle center", cliponaxis: false, hoverinfo: "skip",
   textfont: {family: MONO, size: 12.5, color: "#000000", weight: "bold"}},
  {type: "scatter", mode: "text", x: motX, y: motY, text: motT, textposition: "middle center", cliponaxis: false, hoverinfo: "skip",
   textfont: {family: MONO, size: 8.6, color: "#000000", weight: "bold"}}
];

const layout = {
  width: 752, height: 2101, margin: {l: 0, r: 0, t: 0, b: 0, pad: 0},
  paper_bgcolor: "#ffffff", plot_bgcolor: "#ffffff", showlegend: false,
  xaxis: {range: [0, N_COLS], visible: false, fixedrange: true},
  yaxis: {range: [(2101 - LINE0_PX) / LINE_PX, -LINE0_PX / LINE_PX], visible: false, fixedrange: true}
};
Plotly.newPlot("chart", traces, layout, {staticPlot: true, displayModeBar: false});
</script>
</body></html>
